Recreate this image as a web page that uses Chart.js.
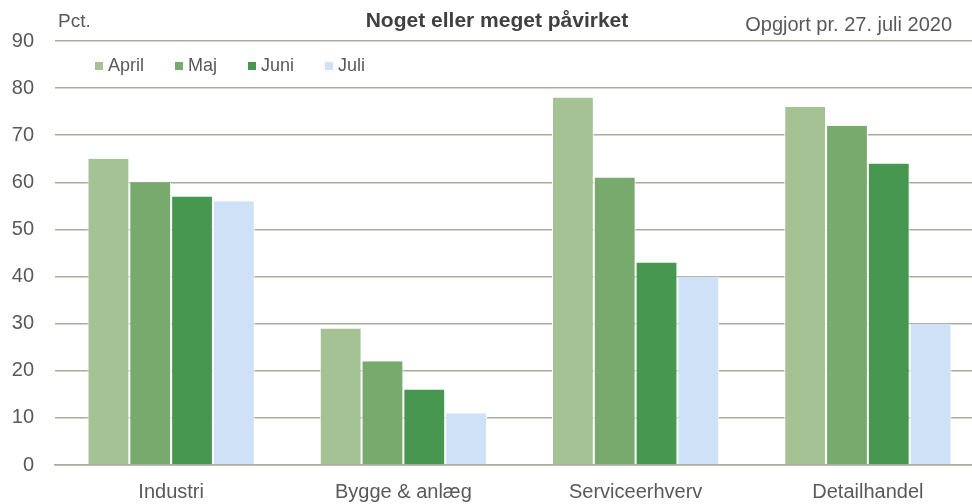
<!DOCTYPE html>
<html>
<head>
<meta charset="utf-8">
<script src="https://cdn.jsdelivr.net/npm/chart.js@4.4.0/dist/chart.umd.min.js"></script>
<style>
  html, body { margin: 0; padding: 0; overflow: hidden; background: #fff; }
  #wrap { width: 984px; height: 504px; position: relative; }
</style>
</head>
<body>
<div id="wrap"><canvas id="chart"></canvas></div>
<script>
// Data
const categories = ['Industri', 'Bygge & anlæg', 'Serviceerhverv', 'Detailhandel'];
const seriesNames = ['April', 'Maj', 'Juni', 'Juli'];
const april = [65, 29, 78, 76];
const maj = [60, 22, 61, 72];
const juni = [57, 16, 43, 64];
const juli = [56, 11, 40, 30];
const seriesColors = ['#a5c295', '#78aa6e', '#479751', '#cfe1f6'];

const chartTitle = 'Noget eller meget påvirket';
const unitLabel = 'Pct.';
const noteLabel = 'Opgjort pr. 27. juli 2020';

const fontFamily = "'Liberation Sans', Arial, sans-serif";
const textColor = '#595959';
const gridColor = '#abab9e';

// Title, unit, note and legend drawn on the canvas
const headerPlugin = {
    id: 'header',
    afterDraw(chart) {
        const ctx = chart.ctx;
        ctx.save();
        ctx.textBaseline = 'middle';

        ctx.fillStyle = '#404040';
        ctx.font = 'bold 21px ' + fontFamily;
        ctx.textAlign = 'center';
        ctx.fillText(chartTitle, 497, 21);

        ctx.fillStyle = textColor;
        ctx.font = '19px ' + fontFamily;
        ctx.textAlign = 'left';
        ctx.fillText(unitLabel, 58, 22);

        ctx.font = '20px ' + fontFamily;
        ctx.textAlign = 'right';
        ctx.fillText(noteLabel, 952, 25);

        // Legend
        ctx.font = '18px ' + fontFamily;
        ctx.textAlign = 'left';
        let x = 95;
        const y = 66;
        chart.data.datasets.forEach(ds => {
            ctx.fillStyle = ds.backgroundColor;
            ctx.fillRect(x, y - 4, 8, 8);
            ctx.fillStyle = textColor;
            ctx.fillText(ds.label, x + 13, y);
            x += 13 + ctx.measureText(ds.label).width + 31;
        });
        ctx.restore();
    }
};

const values = [april, maj, juni, juli];
const datasets = seriesNames.map((name, i) => ({
    label: name,
    data: values[i],
    backgroundColor: seriesColors[i],
    borderColor: '#ffffff',
    borderWidth: { left: 1, right: 1, top: 0, bottom: 0 },
    borderSkipped: false,
    categoryPercentage: 0.72,
    barPercentage: 1.0
}));

const ctx = document.getElementById('chart').getContext('2d');
new Chart(ctx, {
    type: 'bar',
    data: { labels: categories, datasets: datasets },
    options: {
        responsive: true,
        maintainAspectRatio: false,
        animation: false,
        layout: { padding: { top: 41, left: 12, right: 0, bottom: 0 } },
        plugins: {
            legend: { display: false },
            tooltip: { enabled: false }
        },
        scales: {
            x: {
                grid: { display: false, drawTicks: false },
                border: { display: true, color: gridColor, width: 1.5 },
                ticks: {
                    color: textColor,
                    padding: 15,
                    font: { family: fontFamily, size: 20 }
                },
                afterFit: scale => { scale.height = 39; }
            },
            y: {
                min: 0,
                max: 90,
                grid: { color: gridColor, lineWidth: 1.5, drawTicks: false },
                border: { display: false },
                ticks: {
                    stepSize: 10,
                    color: textColor,
                    padding: 21,
                    font: { family: fontFamily, size: 20 }
                },
                afterFit: scale => { scale.width = 43; }
            }
        }
    },
    plugins: [headerPlugin]
});
</script>
</body>
</html>
